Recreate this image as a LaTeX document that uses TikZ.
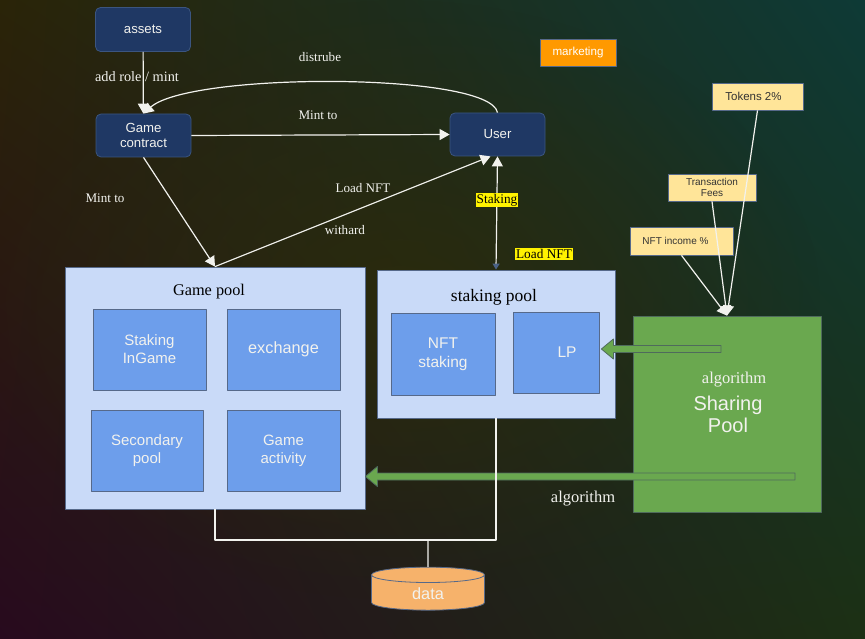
\documentclass[tikz,border=0pt]{standalone}
\usepackage{fontspec}
\setmainfont{Liberation Serif}
\setsansfont{Liberation Sans}
\usepackage{xcolor}
\definecolor{bgtl}{HTML}{2A2408}
\definecolor{bgtr}{HTML}{0E3A36}
\definecolor{bgbl}{HTML}{280A1E}
\definecolor{bgbr}{HTML}{1C3014}
\definecolor{bgmid}{HTML}{2E2C08}
\definecolor{navy}{HTML}{1F3864}
\definecolor{navyline}{HTML}{3B5580}
\definecolor{paleblue}{HTML}{C9DAF8}
\definecolor{midblue}{HTML}{6D9EEB}
\definecolor{slate}{HTML}{56698A}
\definecolor{sharegreen}{HTML}{6AA84F}
\definecolor{greenline}{HTML}{4F6B5C}
\definecolor{notefill}{HTML}{FFE599}
\definecolor{marketorange}{HTML}{FF9900}
\definecolor{datafill}{HTML}{F6B26B}
\definecolor{wire}{HTML}{F2F2EE}
\definecolor{tipblue}{HTML}{4A6285}
\usetikzlibrary{arrows.meta, shapes.geometric, positioning, calc, fadings, shadings}

\tikzfading[name=glow, inner color=transparent!25, outer color=transparent!100]

% block arrow pointing left: #1 tail, #2 tip
\newcommand{\greenarrow}[2]{%
  \path let \p1=(#1), \p2=(#2) in
    [fill=sharegreen, draw=greenline, line width=0.8pt]
    (\x2,\y2) -- (\x2+12pt,\y2+10pt) -- (\x2+12pt,\y2+3.5pt)
    -- (\x1,\y1+3.5pt) -- (\x1,\y1-3.5pt) -- (\x2+12pt,\y2-3.5pt)
    -- (\x2+12pt,\y2-10pt) -- cycle;}

\begin{document}
\begin{tikzpicture}[x=1pt, y=-1pt, line join=round,
  darkbox/.style={draw=navyline, fill=navy, rounded corners=5pt, text=wire,
    font=\sffamily\fontsize{13.2}{15.5}\selectfont, align=center,
    minimum width=95pt, minimum height=44pt, line width=0.8pt},
  poolbox/.style={draw=slate, fill=paleblue, line width=0.8pt},
  pooltitle/.style={font=\fontsize{16.3}{19}\selectfont, text=black},
  innerbox/.style={draw=slate, fill=midblue, text=wire, align=center,
    font=\sffamily\fontsize{15}{18}\selectfont, line width=0.8pt},
  notebox/.style={draw=slate, fill=notefill, text=black!80, align=center,
    font=\sffamily\fontsize{10}{11.5}\selectfont, line width=0.8pt},
  flowlabel/.style={text=wire, font=\fontsize{13.1}{15}\selectfont},
  hilite/.style={fill=yellow, text=black, inner sep=1pt,
    font=\fontsize{13.3}{15}\selectfont},
  flow/.style={draw=wire, line width=1.2pt, -{Triangle[length=10pt,width=11pt]}},
  wireline/.style={draw=wire, line width=1.2pt}]

  % background
  \useasboundingbox (0,0) rectangle (865,639);
  \begin{scope}
    \clip (0,0) rectangle (865,639);
    \shade[upper left=bgtl, upper right=bgtr, lower left=bgbl, lower right=bgbr]
      (0,0) rectangle (865,639);
    \fill[bgmid, path fading=glow] (400,300) ellipse (420pt and 300pt);
  \end{scope}

  % top row
  \node[darkbox] (assets) at (143,29.5) {assets};
  \node[darkbox, minimum height=43pt] (contract) at (143.5,135.5) {Game\\[-1pt]contract};
  \node[darkbox, minimum height=43pt] (user) at (497.5,134.5) {User};
  \node[draw=slate, fill=marketorange, text=white, minimum width=76pt, minimum height=27pt,
    font=\sffamily\fontsize{11.6}{13}\selectfont, line width=0.8pt] (marketing) at (578,52.5) {marketing};

  % fee notes
  \node[notebox, minimum width=91pt, minimum height=27pt, font=\sffamily\fontsize{11.5}{13}\selectfont]
    (tokens) at (757.5,96.5) {\hspace{-8pt}Tokens 2\%};
  \node[notebox, minimum width=88pt, minimum height=27pt]
    (fees) at (712,187.5) {Transaction\\Fees};
  \node[notebox, minimum width=103pt, minimum height=28pt] (nftincome) at (681.5,241) {\hspace{-12pt}NFT income \%};

  % game pool
  \node[poolbox, minimum width=300pt, minimum height=242pt] (gamepool) at (215,388) {};
  \node[pooltitle] at (209,292) {Game pool};
  \node[innerbox, minimum width=113pt, minimum height=81pt] (stakeingame) at (149.5,349.5) {Staking\\InGame};
  \node[innerbox, minimum width=113pt, minimum height=81pt, font=\sffamily\fontsize{16.3}{19}\selectfont]
    (exchange) at (283.5,349.5) {exchange};
  \node[innerbox, minimum width=112pt, minimum height=81pt] (secondary) at (147,450.5) {Secondary\\pool};
  \node[innerbox, minimum width=113pt, minimum height=81pt] (activity) at (283.5,450.5) {Game\\activity};

  % staking pool
  \node[poolbox, minimum width=238pt, minimum height=148pt] (stakingpool) at (496,344) {};
  \node[pooltitle, font=\fontsize{17.5}{20}\selectfont] at (494,297) {staking pool};
  \node[innerbox, minimum width=104pt, minimum height=82pt, font=\sffamily\fontsize{15.5}{19}\selectfont]
    (nftstaking) at (443,354) {NFT\\staking};
  \node[innerbox, minimum width=86pt, minimum height=81pt, font=\sffamily\fontsize{15.5}{19}\selectfont]
    (lp) at (556,352.5) {\hspace*{22pt}LP};

  % sharing pool
  \node[draw=greenline, fill=sharegreen, minimum width=188pt, minimum height=196pt, line width=0.8pt]
    (sharing) at (727,414) {};
  \node[text=wire, font=\fontsize{16.5}{19}\selectfont] at (734,380) {algorithm};
  \node[text=wire, align=center, font=\sffamily\fontsize{20}{22}\selectfont] (sharetext) at (728,414) {Sharing\\Pool};

  % data store
  \node[cylinder, shape border rotate=90, aspect=0.4, draw=slate, fill=datafill, text=wire,
    minimum width=113pt, minimum height=43pt, font=\sffamily\fontsize{16.3}{18}\selectfont, line width=0.8pt]
    (data) at (428,594) {data};

  % connectors
  \draw[flow] (assets) -- (contract);
  \node[flowlabel, font=\fontsize{14.3}{16}\selectfont] at (137,77) {add role / mint};
  \draw[flow] (user.north) .. controls (490,72) and (190,72) .. (contract.north);
  \node[flowlabel] at (320,57) {distrube};
  \draw[flow] (contract.east) -- (user.west);
  \node[flowlabel] at (318,115) {Mint to};
  \draw[flow] (contract.south) -- (gamepool.north);
  \node[flowlabel] at (105,198) {Mint to};
  \coordinate (userin) at ($(user.south)+(-7,0)$);
  \draw[flow] (gamepool.north) -- (userin);
  \node[flowlabel] at (363,188) {Load NFT};
  \node[flowlabel] at (345,230) {withard};
  \draw[wireline, {Triangle[length=6pt,width=7pt,color=tipblue]}-{Triangle[length=10pt,width=11pt]}]
    (stakingpool.north) -- (user.south);
  \node[hilite] at (497,200) {Staking};
  \node[hilite] at (544,254) {Load NFT};

  \draw[flow] (tokens.south) -- (sharing.north);
  \draw[flow] (fees.south) -- (sharing.north);
  \draw[flow] (nftincome.south) -- (sharing.north);

  % algorithm flows
  \coordinate (lptail) at (721,349);
  \coordinate (lptip) at ($(lp.east)+(2,-3.5)$);
  \greenarrow{lptail}{lptip}
  \coordinate (gptail) at (795,476.5);
  \coordinate (gptip) at (gamepool.east |- gptail);
  \greenarrow{gptail}{gptip}
  \node[flowlabel, font=\fontsize{16.5}{19}\selectfont] at (583,499) {algorithm};

  % storage wiring
  \coordinate (bus) at (428,540);
  \draw[wireline] (gamepool.south) |- (stakingpool.south |- bus) -- (stakingpool.south);
  \draw[wireline] (bus) -- (data.north);
\end{tikzpicture}
\end{document}
